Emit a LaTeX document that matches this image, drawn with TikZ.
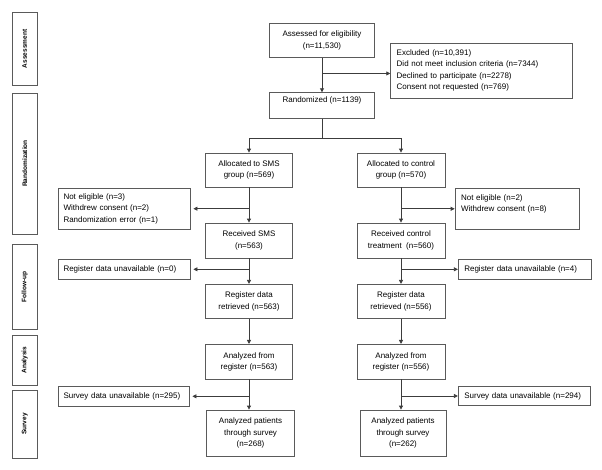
\documentclass[tikz,border=0pt]{standalone}
\usepackage{fontspec}
\setmainfont{Liberation Sans}
\usetikzlibrary{arrows.meta}
\definecolor{boxgray}{HTML}{5A5A5A}
\definecolor{linegray}{HTML}{3C3C3C}
\tikzset{
  box/.style={draw=boxgray, line width=0.8pt, inner xsep=5pt, inner ysep=0pt, align=center, font=\fontsize{8}{11.5}\selectfont},
  sidebox/.style={box, align=left},
  stage/.style={draw=boxgray, line width=0.8pt, rotate=90, minimum height=24.5pt, inner sep=0pt, font=\fontsize{6.5}{8}\selectfont\bfseries},
  link/.style={draw=linegray, line width=0.8pt},
  flow/.style={link, -{Triangle[length=4pt,width=4pt]}},
}
\begin{document}
\begin{tikzpicture}[x=1pt,y=-1pt]
\pgfmathsetmacro{\colL}{249}
\pgfmathsetmacro{\colR}{401}
\pgfmathsetmacro{\colM}{322}
\pgfmathsetmacro{\colS}{24.75}
\useasboundingbox (0,0) rectangle (602,469);
% stages
\node[stage, minimum width=72.3pt] (sassess) at (\colS,48.9) {Assessment};
\node[stage, minimum width=141pt] (srandom) at (\colS,163.5) {Randomization};
\node[stage, minimum width=85.3pt] (sfollow) at (\colS,286.7) {Follow-up};
\node[stage, minimum width=50pt] (sanalysis) at (\colS,360) {Analysis};
\node[stage, minimum width=68pt] (ssurvey) at (\colS,424) {Survey};
% enrolment
\node[box, minimum width=105.5pt, minimum height=34.3pt] (assess) at (\colM,40.2) {Assessed for eligibility\\(n=11,530)};
\node[sidebox, text width=170pt, inner xsep=6pt, minimum height=55pt] (excl) at (481.7,70.5) {Excluded (n=10,391)\\Did not meet inclusion criteria (n=7344)\\Declined to participate (n=2278)\\Consent not requested (n=769)};
\node[box, minimum width=105.5pt, minimum height=25.6pt] (rand) at (\colM,105.5) {Randomized (n=1139)\\\mbox{}};
% allocation
\node[box, minimum width=87pt, minimum height=34pt] (allocL) at (\colL,170) {Allocated to SMS\\group (n=569)};
\node[box, minimum width=88pt, minimum height=34pt] (allocR) at (\colR,170) {Allocated to control\\group (n=570)};
\node[sidebox, text width=122pt, minimum height=40.7pt] (inelL) at (124.5,208.7) {Not eligible (n=3)\\Withdrew consent (n=2)\\Randomization error (n=1)};
\node[sidebox, text width=112.3pt, inner xsep=6pt, minimum height=41pt] (inelR) at (517.2,208.8) {Not eligible (n=2)\\Withdrew consent (n=8)\\\mbox{}};
\node[box, minimum width=87pt, minimum height=35pt] (recvL) at (\colL,240.5) {Received SMS\\(n=563)};
\node[box, minimum width=88pt, minimum height=35pt] (recvR) at (\colR,240.5) {Received control\\treatment\ \ (n=560)};
% follow-up
\node[sidebox, text width=122pt, minimum height=20pt] (regoutL) at (124.5,269.3) {Register data unavailable (n=0)};
\node[sidebox, text width=121.4pt, inner xsep=6pt, minimum height=20pt] (regoutR) at (525,269.3) {Register data unavailable (n=4)};
\node[box, minimum width=87pt, minimum height=34pt] (regL) at (\colL,301.3) {Register data\\retrieved (n=563)};
\node[box, minimum width=88pt, minimum height=34pt] (regR) at (\colR,301.3) {Register data\\retrieved (n=556)};
% analysis
\node[box, minimum width=87pt, minimum height=34.7pt] (anaL) at (\colL,361.7) {Analyzed from\\register (n=563)};
\node[box, minimum width=88pt, minimum height=34.7pt] (anaR) at (\colR,361.7) {Analyzed from\\register (n=556)};
% survey
\node[sidebox, text width=121pt, minimum height=19.5pt] (surveyoutL) at (124,396.3) {Survey data unavailable (n=295)};
\node[sidebox, text width=120.4pt, inner xsep=6pt, minimum height=19.5pt] (surveyoutR) at (524.5,396) {Survey data unavailable (n=294)};
\node[box, minimum width=87.7pt, minimum height=46pt] (patL) at (250.5,433) {Analyzed patients\\through survey\\(n=268)};
\node[box, minimum width=86pt, minimum height=46pt] (patR) at (403,433) {Analyzed patients\\through survey\\(n=262)};
% connectors
\path (assess.south) ++(0,15.7) coordinate (exsplit);
\draw[flow] (assess) -- (rand);
\draw[flow] (exsplit) -- (exsplit -| excl.west);
\coordinate (split) at (0,138.3);
\draw[link] (rand.south) -- (rand.south |- split);
\draw[link] (allocL.north |- split) -- (allocR.north |- split);
\draw[flow] (allocL.north |- split) -- (allocL.north);
\draw[flow] (allocR.north |- split) -- (allocR.north);
\draw[flow] (allocL) -- (recvL);
\draw[flow] (allocR) -- (recvR);
\draw[flow, shorten >=2.5pt] (allocL.south |- inelL.east) -- (inelL.east);
\draw[flow] (allocR.south |- inelR.west) -- (inelR.west);
\draw[flow] (recvL) -- (regL);
\draw[flow] (recvR) -- (regR);
\draw[flow, shorten >=2.5pt] (recvL.south |- regoutL.east) -- (regoutL.east);
\draw[flow] (recvR.south |- regoutR.west) -- (regoutR.west);
\draw[flow] (regL) -- (anaL);
\draw[flow] (regR) -- (anaR);
\draw[flow] (anaL.south) -- (anaL.south |- patL.north);
\draw[flow] (anaR.south) -- (anaR.south |- patR.north);
\draw[flow, shorten >=2.5pt] (anaL.south |- surveyoutL.east) -- (surveyoutL.east);
\draw[flow] (anaR.south |- surveyoutR.west) -- (surveyoutR.west);
\end{tikzpicture}
\end{document}
